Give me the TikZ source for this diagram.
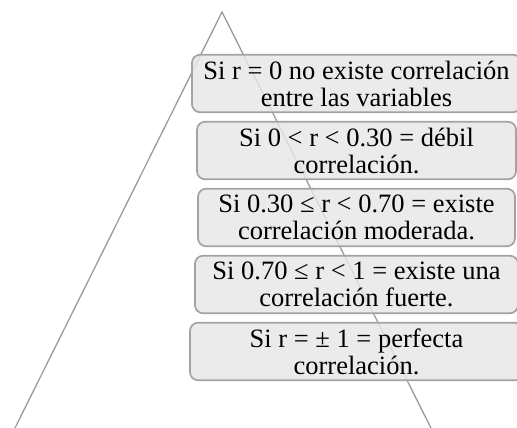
\documentclass[tikz,border=0pt]{standalone}
\usepackage{fontspec}
\setmainfont{Liberation Serif}
\definecolor{grisBorde}{RGB}{163,163,163}
\definecolor{grisFondo}{RGB}{231,231,231}
\definecolor{grisLinea}{RGB}{155,155,155}
\usetikzlibrary{positioning}
\tikzset{
  caja/.style={rectangle, draw=grisBorde, line width=1.7pt, fill=grisFondo,
               fill opacity=0.82, text opacity=1, text=black,
               rounded corners=8pt, minimum width=319pt, minimum height=57.5pt,
               inner sep=0pt, align=center, font=\fontsize{26.5}{27}\selectfont},
  piramide/.style={draw=grisLinea, line width=1.3pt},
}
\begin{document}
\begin{tikzpicture}[x=1pt, y=-1pt, node distance=7.8pt]
  \clip (0,0) rectangle (517,428);
  \coordinate (cima) at (222,12);
  \coordinate (izq) at (15,428);
  \coordinate (der) at (431,428);
  \draw[piramide] (izq) -- (cima) -- (der);
  \node[caja, minimum width=329pt] (a) at (356.5,83.5) {Si r = 0 no existe correlación\\entre las variables};
  \node[caja, below=of a] (b) {Si 0 < r < 0.30 = débil\\correlación.};
  \node[caja, minimum width=317pt, below=of b] (c) {Si 0.30 ≤ r < 0.70 = existe\\correlación moderada.};
  \node[caja, minimum width=323pt, below=of c] (d) {Si 0.70 ≤ r < 1 = existe una\\correlación fuerte.};
  \node[caja, minimum width=333pt, below=of d] (e) {Si r = ± 1 = perfecta\\correlación.};
\end{tikzpicture}
\end{document}
